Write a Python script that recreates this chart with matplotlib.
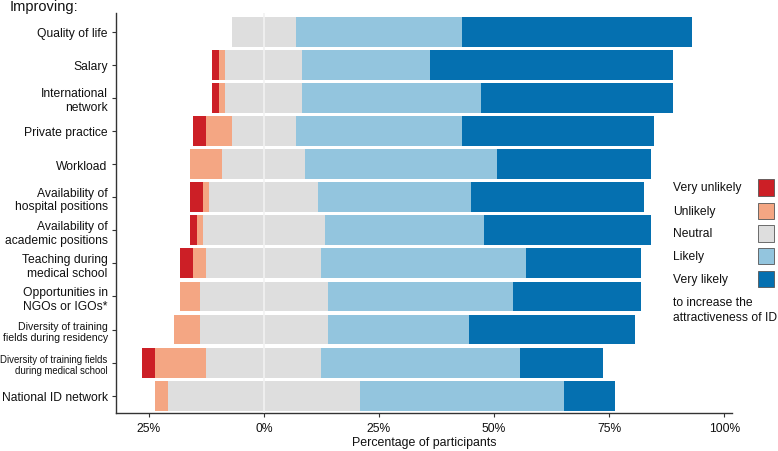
import matplotlib
matplotlib.use("Agg")
import matplotlib.pyplot as plt
from matplotlib.patches import Rectangle
import numpy as np

plt.rcParams['font.family'] = ['Liberation Sans', 'DejaVu Sans']

items = ["Quality of life", "Salary", "International\nnetwork", "Private practice",
         "Workload", "Availability of\nhospital positions", "Availability of\nacademic positions",
         "Teaching during\nmedical school", "Opportunities in\nNGOs or IGOs*",
         "Diversity of training\nfields during residency",
         "Diversity of training fields\nduring medical school", "National ID network"]
label_sizes = [8.7, 8.7, 8.7, 8.7, 8.7, 8.7, 8.7, 8.7, 8.7, 7.6, 6.9, 8.7]

very_unlikely = [0.0, 1.4, 1.4, 2.8, 0.0, 2.8, 1.4, 2.8, 0.0, 0.0, 2.8, 0.0]
unlikely      = [0.0, 1.4, 1.4, 5.6, 6.9, 1.4, 1.4, 2.8, 4.2, 5.6, 11.1, 2.8]
neutral       = [13.9, 16.7, 16.7, 13.9, 18.1, 23.6, 26.4, 25.0, 27.8, 27.8, 25.0, 41.7]
likely        = [36.1, 27.8, 38.9, 36.1, 41.7, 33.3, 34.7, 44.4, 40.3, 30.6, 43.1, 44.4]
very_likely   = [50.0, 52.8, 41.7, 41.7, 33.3, 37.5, 36.1, 25.0, 27.8, 36.1, 18.1, 11.1]

categories = ["Very unlikely", "Unlikely", "Neutral", "Likely", "Very likely"]
colors = ["#CC1F26", "#F4A683", "#DEDEDE", "#93C5DE", "#0570B0"]

xticks = [-25, 0, 25, 50, 75, 100]
xticklabels = ["25%", "0%", "25%", "50%", "75%", "100%"]

fig = plt.figure(figsize=(7.78, 4.52), dpi=100)
ax = fig.add_axes([116/778, 1-414.3/452, (732-116)/778, (414.3-13.5)/452])

vu = np.array(very_unlikely); u = np.array(unlikely); n = np.array(neutral)
l = np.array(likely); vl = np.array(very_likely)
y = np.arange(len(items))
h = 0.9

ax.barh(y, n/2, left=-n/2, height=h, color=colors[2], linewidth=0)
ax.barh(y, n/2, left=0, height=h, color=colors[2], linewidth=0)
ax.barh(y, u, left=-n/2-u, height=h, color=colors[1], linewidth=0)
ax.barh(y, vu, left=-n/2-u-vu, height=h, color=colors[0], linewidth=0)
ax.barh(y, l, left=n/2, height=h, color=colors[3], linewidth=0)
ax.barh(y, vl, left=n/2+l, height=h, color=colors[4], linewidth=0)
ax.axvline(0, color="#F2F2F2", lw=1.2, zorder=3)

ax.set_ylim(len(items)-1+0.53, -0.58)
ax.set_xlim(-32.1, 101.7)
ax.set_yticks(y)
ax.set_yticklabels(items)
for t, s in zip(ax.get_yticklabels(), label_sizes):
    t.set_fontsize(s)
ax.set_xticks(xticks)
ax.set_xticklabels(xticklabels, fontsize=8.7)
ax.tick_params(axis='both', length=3, width=0.8, color="#333333", pad=3, labelcolor="#111111")
for s in ["top", "right"]:
    ax.spines[s].set_visible(False)
for s in ["left", "bottom"]:
    ax.spines[s].set_color("#333333")
    ax.spines[s].set_linewidth(1.0)
ax.set_xlabel("Percentage of participants", fontsize=8.9, labelpad=2, color="#111111")

fig.text(10/778, 1-7.5/452, "Improving:", fontsize=10.5, ha="left", va="center", color="#111111")

# legend (manual)
leg_y = [188.3, 212.0, 234.3, 257.0, 279.8]
for name, c, yy in zip(categories, colors, leg_y):
    fig.text(673/778, 1-yy/452, name, fontsize=8.7, ha="left", va="center", color="#111111")
    fig.patches.append(Rectangle((757.5/778, 1-(yy+8.3)/452), 16.5/778, 16.5/452,
                                 transform=fig.transFigure, facecolor=c,
                                 edgecolor="#555555", linewidth=0.6))
fig.text(673/778, 1-303.3/452, "to increase the", fontsize=8.7, ha="left", va="center", color="#111111")
fig.text(673/778, 1-318.3/452, "attractiveness of ID", fontsize=8.7, ha="left", va="center", color="#111111")

fig.savefig("out.png", dpi=100)
